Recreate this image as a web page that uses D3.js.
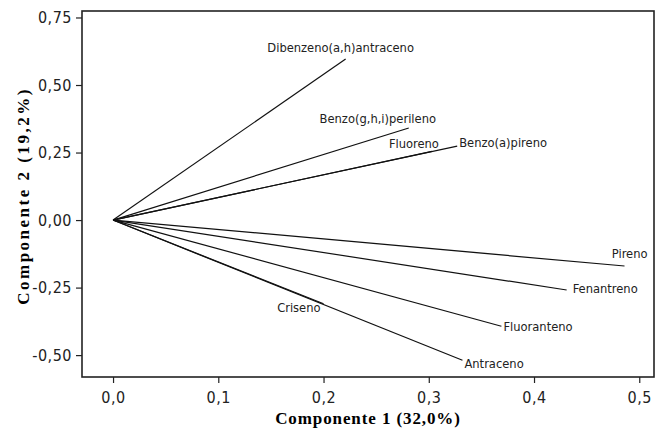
<!DOCTYPE html>
<html>
<head>
<meta charset="utf-8">
<script src="https://cdn.jsdelivr.net/npm/d3@7"></script>
<style>
  body { margin: 0; background: #fff; }
  svg { display: block; }
</style>
</head>
<body>
<svg id="chart" width="655" height="430"></svg>
<script>
// Loadings
const names = ["Dibenzeno(a,h)antraceno", "Benzo(g,h,i)perileno", "Fluoreno", "Benzo(a)pireno",
               "Pireno", "Fenantreno", "Fluoranteno", "Antraceno", "Criseno"];
const comp1 = [0.221, 0.281, 0.303, 0.327, 0.486, 0.431, 0.369, 0.332, 0.200];
const comp2 = [0.596, 0.341, 0.254, 0.274, -0.170, -0.259, -0.393, -0.519, -0.310];

const xTicks = [0.0, 0.1, 0.2, 0.3, 0.4, 0.5];
const yTicks = [-0.50, -0.25, 0.00, 0.25, 0.50, 0.75];

// where each label sits relative to its vector tip (pixels)
const labelPlace = {
  "Dibenzeno(a,h)antraceno": {dx: -5, dy: -7, anchor: "middle"},
  "Benzo(g,h,i)perileno": {dx: -31, dy: -5, anchor: "middle"},
  "Fluoreno": {dx: 7, dy: -3, anchor: "end"},
  "Benzo(a)pireno": {dx: 2, dy: 1, anchor: "start"},
  "Pireno": {dx: 23, dy: -8, anchor: "end"},
  "Fenantreno": {dx: 6, dy: 3, anchor: "start"},
  "Fluoranteno": {dx: 2, dy: 5, anchor: "start"},
  "Antraceno": {dx: 2, dy: 8, anchor: "start"},
  "Criseno": {dx: -3, dy: 8, anchor: "end"}
};

const data = names.map((n, i) => ({name: n, c1: comp1[i], c2: comp2[i]}));

const svg = d3.select("#chart");
const frame = {left: 82, right: 654, top: 11, bottom: 377};

const x = d3.scaleLinear()
    .domain([-0.0295, 0.514])
    .range([frame.left, frame.right]);

const y = d3.scaleLinear()
    .domain([-0.581, 0.774])
    .range([frame.bottom, frame.top]);

// decimal comma and a plain hyphen for negatives
const comma = f => v => d3.format(f)(v).replace(".", ",").replace("\u2212", "-");
const sans = "'DejaVu Sans Condensed', 'DejaVu Sans', sans-serif";
const serif = "'Liberation Serif', 'DejaVu Serif', serif";

// axes
const gx = svg.append("g")
    .attr("transform", `translate(0,${frame.bottom})`)
    .call(d3.axisBottom(x).tickValues(xTicks).tickFormat(comma(".1f")).tickSize(6).tickPadding(9));

const gy = svg.append("g")
    .attr("transform", `translate(${frame.left},0)`)
    .call(d3.axisLeft(y).tickValues(yTicks).tickFormat(comma(".2f")).tickSize(6).tickPadding(4));

[gx, gy].forEach(g => {
  g.select(".domain").remove();
  g.selectAll(".tick line").attr("stroke", "#222").attr("stroke-width", 1.2);
  g.selectAll(".tick text")
      .attr("fill", "#222")
      .style("font-family", sans)
      .style("font-size", "16px")
      .style("letter-spacing", "0.5px");
});

// frame
svg.append("rect")
    .attr("x", frame.left)
    .attr("y", frame.top)
    .attr("width", frame.right - frame.left)
    .attr("height", frame.bottom - frame.top)
    .attr("fill", "none")
    .attr("stroke", "#222")
    .attr("stroke-width", 1.6);

// vectors
svg.append("g").selectAll("line")
    .data(data)
    .join("line")
    .attr("x1", x(0))
    .attr("y1", y(0))
    .attr("x2", d => x(d.c1))
    .attr("y2", d => y(d.c2))
    .attr("stroke", "#111")
    .attr("stroke-width", 1.2);

// labels
svg.append("g").selectAll("text")
    .data(data)
    .join("text")
    .attr("x", d => x(d.c1) + labelPlace[d.name].dx)
    .attr("y", d => y(d.c2) + labelPlace[d.name].dy)
    .attr("text-anchor", d => labelPlace[d.name].anchor)
    .attr("fill", "#222")
    .style("font-family", sans)
    .style("font-size", "12.8px")
    .text(d => d.name);

// axis titles
svg.append("text")
    .attr("x", (frame.left + frame.right) / 2)
    .attr("y", 424)
    .attr("text-anchor", "middle")
    .style("font-family", serif)
    .style("font-weight", "bold")
    .style("font-size", "17px")
    .style("letter-spacing", "0.9px")
    .text("Componente 1 (32,0%)");

svg.append("text")
    .attr("transform", `translate(29,196) rotate(-90)`)
    .attr("text-anchor", "middle")
    .style("font-family", serif)
    .style("font-weight", "bold")
    .style("font-size", "17px")
    .style("letter-spacing", "2.5px")
    .text("Componente 2 (19,2%)");
</script>
</body>
</html>
